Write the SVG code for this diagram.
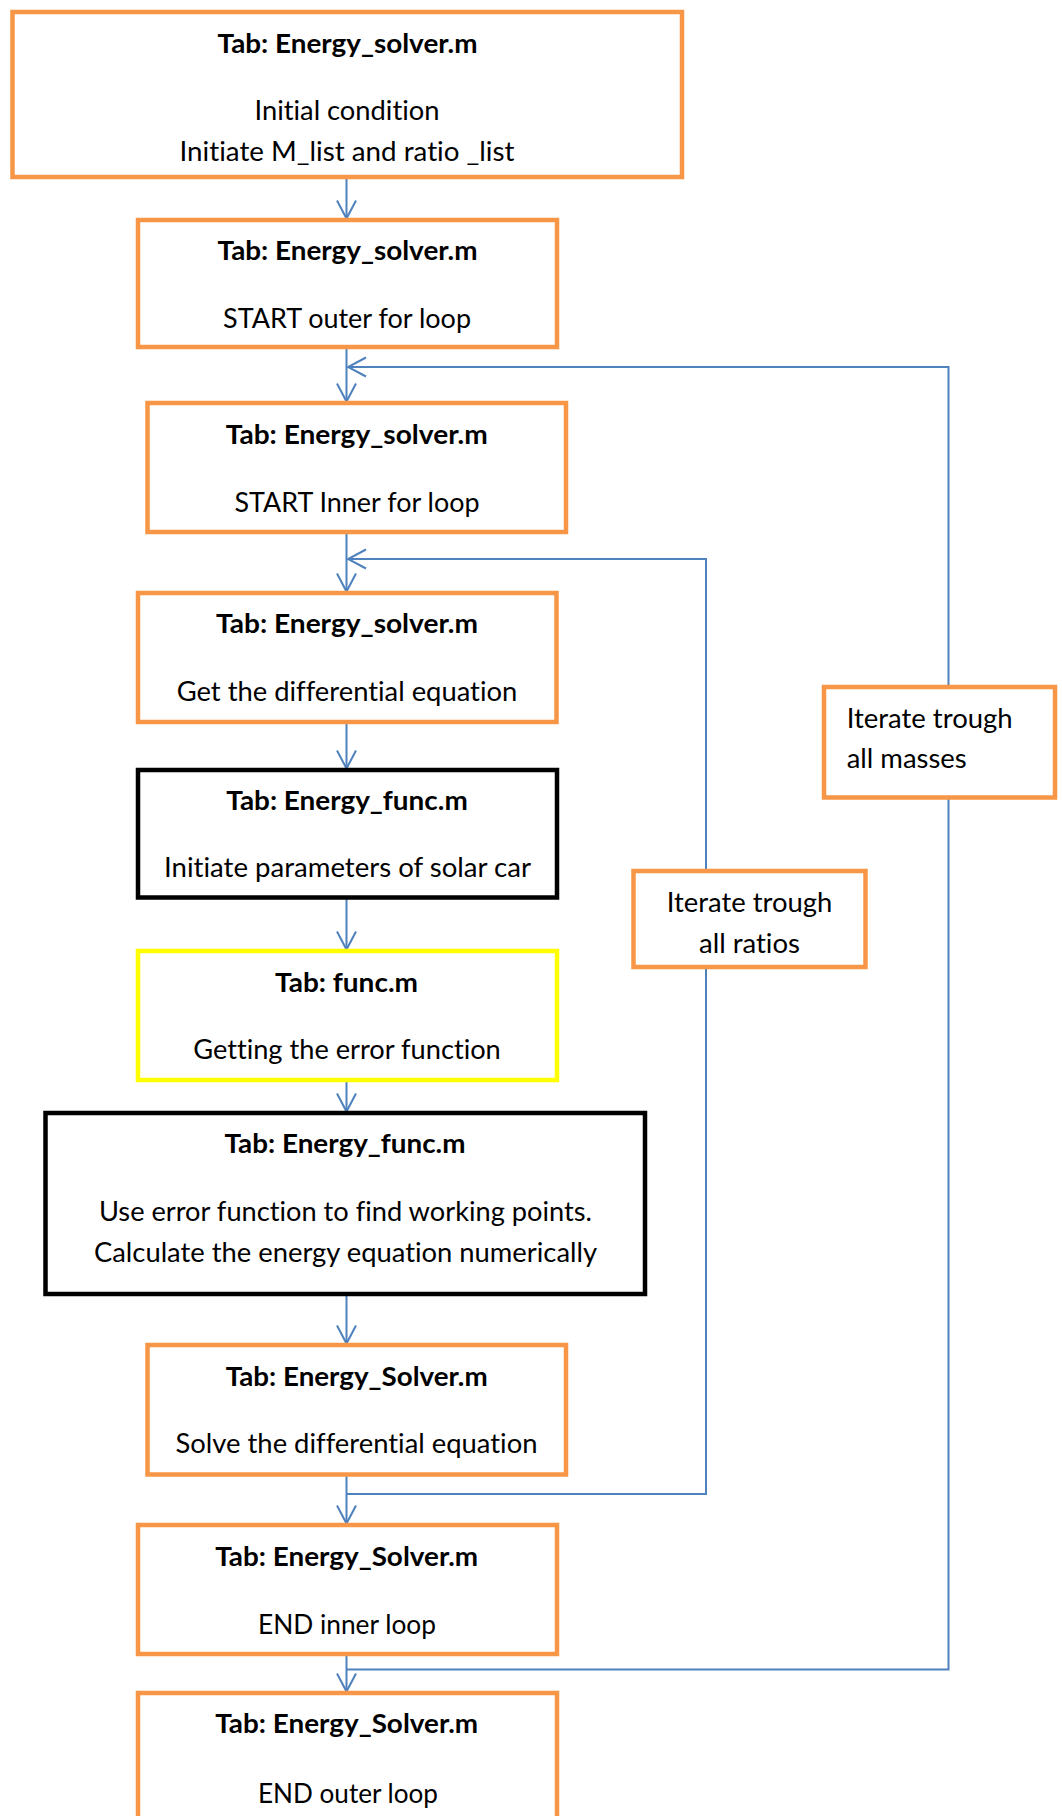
<svg xmlns="http://www.w3.org/2000/svg" width="1062" height="1816" viewBox="0 0 1062 1816">
<style>
  .box { fill: #FFFFFF; stroke-width: 4.5; }
  .orange { stroke: #F79646; }
  .black { stroke: #000000; }
  .yellow { stroke: #FFFF00; }
  text { font-family: Lato, "Liberation Sans", sans-serif; font-size: 27px; fill: #000000; font-variant-ligatures: none; font-feature-settings: "liga" 0, "clig" 0, "dlig" 0; }
  .b { font-weight: bold; text-anchor: middle; }
  .c { text-anchor: middle; }
  .conn { fill: none; stroke: #4F81BD; stroke-width: 2; }
</style>
<defs>
  <marker id="ah" markerUnits="userSpaceOnUse" viewBox="-22 -12 24 24" markerWidth="24" markerHeight="24" refX="0.5" refY="0" orient="auto">
    <path d="M-18,-9.5 L0,0 L-18,9.5" fill="none" stroke="#4F81BD" stroke-width="2"/>
  </marker>
</defs>
<rect width="1062" height="1816" fill="#FFFFFF"/>

<g id="connectors">
  <line class="conn" x1="346.5" y1="177" x2="346.5" y2="219" marker-end="url(#ah)"/>
  <line class="conn" x1="346.5" y1="347" x2="346.5" y2="402" marker-end="url(#ah)"/>
  <line class="conn" x1="346.5" y1="532" x2="346.5" y2="592" marker-end="url(#ah)"/>
  <line class="conn" x1="346.5" y1="722" x2="346.5" y2="769" marker-end="url(#ah)"/>
  <line class="conn" x1="346.5" y1="897" x2="346.5" y2="950" marker-end="url(#ah)"/>
  <line class="conn" x1="346.5" y1="1080" x2="346.5" y2="1112" marker-end="url(#ah)"/>
  <line class="conn" x1="346.5" y1="1294" x2="346.5" y2="1344" marker-end="url(#ah)"/>
  <line class="conn" x1="346.5" y1="1474" x2="346.5" y2="1524" marker-end="url(#ah)"/>
  <line class="conn" x1="346.5" y1="1654" x2="346.5" y2="1692" marker-end="url(#ah)"/>
  <polyline class="conn" points="346.5,1494 706,1494 706,559 347.5,559" marker-end="url(#ah)"/>
  <polyline class="conn" points="346.5,1669.5 948.5,1669.5 948.5,367 347.5,367" marker-end="url(#ah)"/>
</g>

<g id="n1">
  <rect class="box orange" x="12.5" y="12" width="669.5" height="165"/>
  <text class="b" x="347.5" y="52.7" textLength="260" lengthAdjust="spacingAndGlyphs">Tab: Energy_solver.m</text>
  <text class="c" x="347" y="120" textLength="185" lengthAdjust="spacingAndGlyphs">Initial condition</text>
  <text class="c" x="347" y="161" textLength="335" lengthAdjust="spacingAndGlyphs">Initiate M_list and ratio _list</text>
</g>
<g id="n2">
  <rect class="box orange" x="138" y="220" width="419" height="127"/>
  <text class="b" x="347.5" y="260" textLength="260" lengthAdjust="spacingAndGlyphs">Tab: Energy_solver.m</text>
  <text class="c" x="347" y="328.3" textLength="248" lengthAdjust="spacingAndGlyphs">START outer for loop</text>
</g>
<g id="n3">
  <rect class="box orange" x="147.5" y="403" width="418.5" height="129"/>
  <text class="b" x="356.7" y="444" textLength="262" lengthAdjust="spacingAndGlyphs">Tab: Energy_solver.m</text>
  <text class="c" x="357" y="511.7" textLength="245" lengthAdjust="spacingAndGlyphs">START Inner for loop</text>
</g>
<g id="n4">
  <rect class="box orange" x="138" y="593" width="418.5" height="129"/>
  <text class="b" x="347" y="633.3" textLength="262" lengthAdjust="spacingAndGlyphs">Tab: Energy_solver.m</text>
  <text class="c" x="347" y="701" textLength="340.6" lengthAdjust="spacingAndGlyphs">Get the differential equation</text>
</g>
<g id="n5">
  <rect class="box black" x="138" y="770" width="419" height="127.5"/>
  <text class="b" x="347" y="810" textLength="241.5" lengthAdjust="spacingAndGlyphs">Tab: Energy_func.m</text>
  <text class="c" x="347.5" y="877" textLength="367" lengthAdjust="spacingAndGlyphs">Initiate parameters of solar car</text>
</g>
<g id="n6">
  <rect class="box yellow" x="138" y="951" width="419" height="129"/>
  <text class="b" x="346.5" y="992" textLength="143" lengthAdjust="spacingAndGlyphs">Tab: func.m</text>
  <text class="c" x="347" y="1059" textLength="307.6" lengthAdjust="spacingAndGlyphs">Getting the error function</text>
</g>
<g id="n7">
  <rect class="box black" x="45.5" y="1113" width="599.5" height="181"/>
  <text class="b" x="345" y="1153" textLength="241" lengthAdjust="spacingAndGlyphs">Tab: Energy_func.m</text>
  <text class="c" x="345.5" y="1221" textLength="493" lengthAdjust="spacingAndGlyphs">Use error function to find working points.</text>
  <text class="c" x="345.5" y="1262" textLength="503" lengthAdjust="spacingAndGlyphs">Calculate the energy equation numerically</text>
</g>
<g id="n8">
  <rect class="box orange" x="147.5" y="1345" width="418.5" height="129.5"/>
  <text class="b" x="356.7" y="1386" textLength="262" lengthAdjust="spacingAndGlyphs">Tab: Energy_Solver.m</text>
  <text class="c" x="356.5" y="1453" textLength="362" lengthAdjust="spacingAndGlyphs">Solve the differential equation</text>
</g>
<g id="n9">
  <rect class="box orange" x="138" y="1525" width="419" height="129"/>
  <text class="b" x="346.7" y="1566" textLength="263" lengthAdjust="spacingAndGlyphs">Tab: Energy_Solver.m</text>
  <text class="c" x="347" y="1634" textLength="178" lengthAdjust="spacingAndGlyphs">END inner loop</text>
</g>
<g id="n10">
  <rect class="box orange" x="138" y="1693" width="419" height="130"/>
  <text class="b" x="346.7" y="1733" textLength="263" lengthAdjust="spacingAndGlyphs">Tab: Energy_Solver.m</text>
  <text class="c" x="348" y="1802.5" textLength="180" lengthAdjust="spacingAndGlyphs">END outer loop</text>
</g>
<g id="ratios">
  <rect class="box orange" x="633.5" y="871" width="232" height="96"/>
  <text class="c" x="749.5" y="912" textLength="165.6" lengthAdjust="spacingAndGlyphs">Iterate trough</text>
  <text class="c" x="749.5" y="952.6" textLength="101" lengthAdjust="spacingAndGlyphs">all ratios</text>
</g>
<g id="masses">
  <rect class="box orange" x="824" y="687" width="231" height="110.5"/>
  <text x="846.7" y="728" textLength="166" lengthAdjust="spacingAndGlyphs">Iterate trough</text>
  <text x="846.7" y="768" textLength="120" lengthAdjust="spacingAndGlyphs">all masses</text>
</g>
</svg>
